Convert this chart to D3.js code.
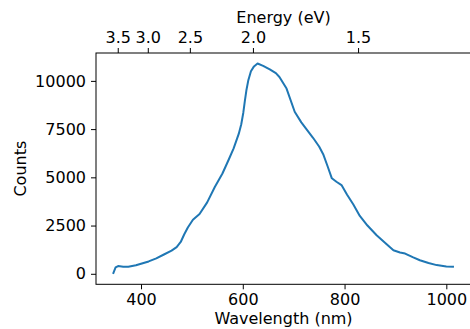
<!DOCTYPE html>
<html><head><meta charset="utf-8">
<script src="https://cdn.jsdelivr.net/npm/d3@7"></script>
<style>body{margin:0;background:#fff}svg text{font-family:"DejaVu Sans",sans-serif;fill:#000}</style>
</head><body><svg id="c" width="470" height="329"></svg>
<script>
const wavelength = [345,350,355,365,375,390,400,415,430,445,460,470,478,485,492,502,515,530,545,560,572,582,592,597,601,604,607,611,616,622,629,640,653,665,672,686,702,715,725,738,750,758,767,775,784,794,805,817,830,845,863,880,896,909,919,935,948,965,981,1000,1015];
const counts = [0,330,400,370,370,440,520,640,800,1000,1200,1380,1650,2050,2400,2800,3100,3700,4500,5200,5900,6500,7250,7750,8350,8950,9500,10050,10500,10750,10900,10780,10600,10400,10200,9600,8400,7850,7500,7050,6600,6200,5550,4950,4770,4600,4100,3600,3000,2500,2000,1600,1220,1100,1050,850,700,560,450,380,360];
const yTicks = [0,2500,5000,7500,10000];
const xTicks = [400,600,800,1000];
const energyTicks = [3.5,3.0,2.5,2.0,1.5];

const L=96, R=471, T=53, B=284.3;
const svg = d3.select("#c");
const [xmin,xmax] = d3.extent(wavelength), [ymin,ymax] = d3.extent(counts);
const px=(xmax-xmin)*0.05, py=(ymax-ymin)*0.05;
const x = d3.scaleLinear().domain([xmin-px,xmax+px]).range([L,R]);
const y = d3.scaleLinear().domain([ymin-py,ymax+py]).range([B,T]);

const data = wavelength.map((w,i)=>[w,counts[i]]);
svg.append("path").datum(data).attr("fill","none").attr("stroke","#1f77b4").attr("stroke-width",2)
  .attr("stroke-linejoin","round").attr("d",d3.line().x(d=>x(d[0])).y(d=>y(d[1])));

function style(g){
  g.selectAll("text").attr("font-size",16).attr("font-family","DejaVu Sans").attr("fill","#000");
  g.selectAll("line").attr("stroke","#000");
  g.select(".domain").remove();
}
svg.append("g").attr("transform",`translate(0,${B})`)
  .call(d3.axisBottom(x).tickValues(xTicks).tickFormat(d3.format("d")).tickSize(5).tickPadding(4)).call(style);
svg.append("g").attr("transform",`translate(${L},0)`)
  .call(d3.axisLeft(y).tickValues(yTicks).tickFormat(d3.format("d")).tickSize(5).tickPadding(5)).call(style);
svg.append("g").attr("transform",`translate(0,${T})`)
  .call(d3.axisTop(x).tickValues(energyTicks.map(e=>1239.84/e)).tickFormat((d,i)=>energyTicks[i].toFixed(1)).tickSize(5).tickPadding(5)).call(style);

// spines
svg.append("rect").attr("x",L).attr("y",T).attr("width",R-L).attr("height",B-T)
  .attr("fill","none").attr("stroke","#000").attr("stroke-width",1);

svg.append("text").attr("x",(L+R)/2).attr("y",23).attr("text-anchor","middle").attr("font-size",16).text("Energy (eV)");
svg.append("text").attr("x",(L+R)/2).attr("y",324).attr("text-anchor","middle").attr("font-size",16).text("Wavelength (nm)");
svg.append("text").attr("transform",`translate(26,${(T+B)/2}) rotate(-90)`).attr("text-anchor","middle").attr("font-size",16).text("Counts");
</script></body></html>
